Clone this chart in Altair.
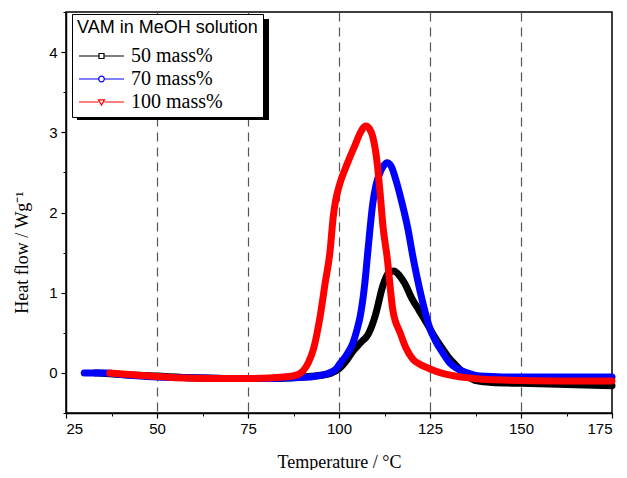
import altair as alt
import pandas as pd

series_names = ["50 mass%", "70 mass%", "100 mass%"]
series_colors = ["#000000", "#0000ff", "#ff0000"]

# 50 mass%
t50 = [33, 40, 50, 60, 70, 80, 90, 95, 98, 100, 102, 104, 106, 108, 110, 112, 113.5, 115, 116.5,
       118, 120, 122, 124, 126, 128, 130, 132, 135, 138, 142, 150, 160, 175]
h50 = [0.0, -0.02, -0.04, -0.06, -0.07, -0.07, -0.05, -0.03, 0.0, 0.05, 0.15, 0.28, 0.38, 0.48,
       0.72, 1.08, 1.24, 1.27, 1.22, 1.12, 0.93, 0.78, 0.63, 0.47, 0.33, 0.2, 0.1, -0.03, -0.1,
       -0.12, -0.13, -0.14, -0.16]

# 70 mass%
t70 = [30, 36, 40, 50, 60, 70, 80, 88, 92, 96, 99, 100, 102, 103.8, 105, 105.8, 107.1, 108, 109.3,
       110.2, 111.2, 112.2, 113.2, 114.3, 115.4, 117.3, 119, 120.3, 121.5, 123, 125, 126.5, 128.5,
       130.5, 133, 135.2, 138.7, 145, 160, 175]
h70 = [0.0, 0.0, -0.02, -0.05, -0.06, -0.07, -0.07, -0.06, -0.05, -0.02, 0.04, 0.1, 0.22, 0.37,
       0.55, 0.7, 1.12, 1.55, 2.12, 2.35, 2.49, 2.58, 2.62, 2.58, 2.44, 2.12, 1.78, 1.45, 1.18,
       0.88, 0.55, 0.4, 0.25, 0.12, 0.04, 0.0, -0.04, -0.05, -0.05, -0.05]

# 100 mass%
t100 = [37, 45, 55, 65, 75, 85, 88, 90, 91.5, 93, 94.8, 96.2, 97.5, 98.4, 100.3, 101.5, 103, 104.5,
        105.8, 107.4, 108.3, 109.3, 110.4, 111.3, 112.1, 113.2, 114.8, 116.8, 118.5, 120.3, 122.5,
        125, 128, 132, 137, 145, 160, 175]
h100 = [0.0, -0.03, -0.06, -0.07, -0.07, -0.05, -0.03, 0.02, 0.12, 0.3, 0.7, 1.12, 1.5, 1.94, 2.37,
        2.52, 2.69, 2.85, 2.99, 3.08, 3.05, 2.94, 2.65, 2.24, 1.82, 1.45, 0.78, 0.5, 0.3, 0.17, 0.1,
        0.05, 0.0, -0.04, -0.07, -0.09, -0.1, -0.1]

x_major = [25, 50, 75, 100, 125, 150, 175]
x_grid = [50, 75, 100, 125, 150]
x_minor = [37.5, 62.5, 87.5, 112.5, 137.5, 162.5]
y_major = [0, 1, 2, 3, 4]
y_minor = [-0.5, 0.5, 1.5, 2.5, 3.5, 4.5]

rows = []
for name, ts, hs in zip(series_names, [t50, t70, t100], [h50, h70, h100]):
    for t, h in zip(ts, hs):
        rows.append({"T": t, "H": h, "series": name})
df = pd.DataFrame(rows)

# legend symbols: line segment with a small open marker in the middle
legend_shapes = [
    "M-2.25,0H-0.25M0.25,0H2.25M-0.25,-0.25H0.25V0.25H-0.25Z",
    "M-2.25,0H-0.28M0.28,0H2.25M0.28,0A0.28,0.28 0 1,1 -0.28,0A0.28,0.28 0 1,1 0.28,0",
    "M-2.25,0H-0.3M0.3,0H2.25M-0.3,-0.22L0.3,-0.22L0,0.3Z",
]

xscale = alt.Scale(domain=[25, 175], nice=False, zero=False)
yscale = alt.Scale(domain=[-0.5, 4.5], nice=False, zero=False)
cscale = alt.Scale(domain=series_names, range=series_colors)
sscale = alt.Scale(domain=series_names, range=legend_shapes)

main_x = alt.Axis(values=x_major, title="Temperature / °C", grid=False, tickSize=5,
                  tickColor="black", domainColor="black", domainWidth=1.5, tickWidth=1.2,
                  labelFont="Liberation Sans", labelFontSize=15, labelColor="black",
                  labelPadding=3, titleFont="Liberation Serif", titleFontSize=18,
                  titleFontWeight="normal", titleColor="black", titleY=49,
                  titleBaseline="middle", orient="bottom")
main_y = alt.Axis(values=y_major, title="Heat flow / Wg⁻¹", grid=False, tickSize=5,
                  tickColor="black", domainColor="black", domainWidth=1.5, tickWidth=1.2,
                  labelFont="Liberation Sans", labelFontSize=15, labelColor="black",
                  labelPadding=4, titleFont="Liberation Serif", titleFontSize=18,
                  titleFontWeight="normal", titleColor="black", titleX=-44, titleY=240,
                  titleBaseline="middle", titleAlign="center", orient="left")
minor_x = alt.Axis(values=x_minor, title=None, grid=False, labels=False, domain=False,
                   tickSize=3, tickColor="black", tickWidth=1, orient="bottom")
minor_y = alt.Axis(values=y_minor, title=None, grid=False, labels=False, domain=False,
                   tickSize=3, tickColor="black", tickWidth=1, orient="left")
grid_x = alt.Axis(values=x_grid, title=None, grid=True, gridDash=[9, 6], gridColor="#555555",
                  gridWidth=1.2, labels=False, domain=False, ticks=False, orient="bottom")

base = alt.Chart(df)


def line_layer(name, xaxis, yaxis):
    return base.transform_filter(alt.datum.series == name).mark_line(
        strokeWidth=7, interpolate="monotone", strokeCap="round", strokeJoin="round"
    ).encode(
        x=alt.X("T:Q", scale=xscale, axis=xaxis),
        y=alt.Y("H:Q", scale=yscale, axis=yaxis),
        color=alt.Color("series:N", scale=cscale, legend=None),
    )


legend_layer = base.mark_point(filled=False, opacity=0, size=1).encode(
    x=alt.X("T:Q", scale=xscale, axis=grid_x),
    y=alt.Y("H:Q", scale=yscale, axis=None),
    color=alt.Color("series:N", scale=cscale, sort=series_names,
                    legend=alt.Legend(title="VAM in MeOH solution")),
    shape=alt.Shape("series:N", scale=sscale, sort=series_names,
                    legend=alt.Legend(title="VAM in MeOH solution")),
)

# drop shadow behind the legend box
shadow = alt.Chart(pd.DataFrame({"a": [0]})).mark_rect(color="black").encode(
    x=alt.value(11), x2=alt.value(203), y=alt.value(7), y2=alt.value(108)
)

chart = alt.layer(
    legend_layer,
    line_layer("50 mass%", main_x, main_y),
    line_layer("70 mass%", minor_x, minor_y),
    line_layer("100 mass%", None, None),
    shadow,
).resolve_axis(x="independent", y="independent").properties(
    width=546, height=401,
    autosize=alt.AutoSizeParams(type="none"),
    padding={"left": 58, "top": 4, "right": 7, "bottom": 57},
).configure_view(
    stroke="black", strokeWidth=1.5
).configure_legend(
    orient="none", legendX=6, legendY=2,
    strokeColor="black", fillColor="white", padding=5, cornerRadius=0,
    titleFont="Liberation Sans", titleFontSize=18, titleFontWeight="normal", titleColor="black",
    titlePadding=8, titleLimit=400,
    labelFont="Liberation Serif", labelFontSize=20, labelColor="black", labelOffset=18.5,
    symbolSize=400, symbolOffset=13.5, symbolStrokeWidth=1.2, symbolOpacity=1, rowPadding=2,
)

chart.save("out.html", embed_options={"renderer": "svg", "actions": False})
